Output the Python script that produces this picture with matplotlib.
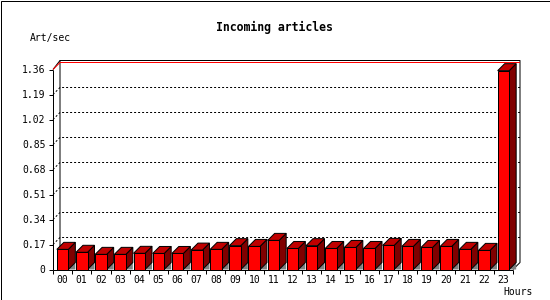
import matplotlib
matplotlib.use("Agg")
import matplotlib.pyplot as plt
from matplotlib.patches import Polygon, Rectangle

# data
hours = ["00", "01", "02", "03", "04", "05", "06", "07", "08", "09", "10", "11",
         "12", "13", "14", "15", "16", "17", "18", "19", "20", "21", "22", "23"]
rate = [0.137, 0.117, 0.103, 0.103, 0.110, 0.109, 0.109, 0.132, 0.137, 0.162, 0.157, 0.198,
        0.143, 0.162, 0.143, 0.150, 0.143, 0.164, 0.157, 0.150, 0.157, 0.137, 0.130, 1.352]
y_ticks = [0, 0.17, 0.34, 0.51, 0.68, 0.85, 1.02, 1.19, 1.36]
y_labels = ["0", "0.17", "0.34", "0.51", "0.68", "0.85", "1.02", "1.19", "1.36"]
y_max = 1.36

W, H = 550, 300
plt.rcParams['font.family'] = ['DejaVu Sans Mono']
fig = plt.figure(figsize=(W / 100, H / 100), dpi=100)
fig.patch.set_facecolor("white")

# front plot area in pixels: x 53..513, y 269.5 (zero) .. 69.5 (max)
ax = fig.add_axes([53 / W, (H - 269.5) / H, 460 / W, 200 / H])
ax.set_xlim(0, len(hours))
ax.set_ylim(0, y_max)
ax.axis("off")

n = len(hours)
px = n / 460          # one pixel in x data units
py = y_max / 200      # one pixel in y data units
dx, dy = 7 * px, 7 * py   # depth of the 3d effect
lw = 0.72
kw = dict(clip_on=False, lw=lw, solid_capstyle="butt")

# back plane frame
top = y_max + dy + 2 * py
ax.plot([dx, dx, n + dx, n + dx, n], [dy, top, top, dy, 0], color="black", **kw)
ax.plot([0, dx], [y_max, top], color="black", **kw)

# dotted grid on back wall
for y in y_ticks[1:-1]:
    ax.plot([0, dx, n + dx], [y, y + dy, y + dy], color="black",
            ls=(0, (2, 2)), clip_on=False, lw=lw)
# red line at max
ax.plot([0, dx, n + dx], [y_max, y_max + dy, y_max + dy], color="#ff0000", **kw)

# front axes
ax.plot([0, 0], [0, y_max], color="black", zorder=5, **kw)
ax.plot([0, n], [0, 0], color="black", zorder=5, **kw)
for y, lab in zip(y_ticks, y_labels):
    ax.plot([-4 * px, 0], [y, y], color="black", **kw)
    ax.text(-7.5 * px, y - 3.3 * py, lab, ha="right", va="baseline", fontsize=7)
for i in range(n + 1):
    ax.plot([i, i], [0, -4 * py], color="black", **kw)

# 3d bars
bw = 0.3
for i, v in enumerate(rate):
    x0, x1 = i + 0.5 - bw, i + 0.5 + bw
    z = 10 + i
    shadow = Polygon([(x1, 0), (x1 + dx, dy), (x1 + dx, 0)], closed=True,
                     fc="#808080", ec="none", clip_on=False, zorder=z)
    side = Polygon([(x1, 0), (x1, v), (x1 + dx, v + dy), (x1 + dx, dy)], closed=True,
                   fc="#800000", ec="black", lw=lw, clip_on=False, zorder=z)
    cap = Polygon([(x0, v), (x0 + dx, v + dy), (x1 + dx, v + dy), (x1, v)], closed=True,
                  fc="#c00000", ec="black", lw=lw, clip_on=False, zorder=z)
    front = Rectangle((x0, 0), x1 - x0, v, fc="#ff0000", ec="black", lw=lw,
                      clip_on=False, zorder=z)
    for p in (shadow, side, cap, front):
        ax.add_patch(p)
    ax.text(i + 0.5, -13.8 * py, hours[i], ha="center", va="baseline", fontsize=7)

# titles
fig.text(274 / W, 1 - 30.7 / H, "Incoming articles", ha="center", va="baseline",
         fontsize=8.3, fontweight="bold")
fig.text(30 / W, 1 - 40.7 / H, "Art/sec", ha="left", va="baseline", fontsize=7)
fig.text(533 / W, 1 - 295 / H, "Hours", ha="right", va="baseline", fontsize=7)

# outer border
fig.patches.append(Rectangle((0.5 / W, 0.5 / H), (W - 1) / W, (H - 1) / H,
                             transform=fig.transFigure, fill=False, ec="black", lw=lw))

fig.savefig("out.png", dpi=100)
